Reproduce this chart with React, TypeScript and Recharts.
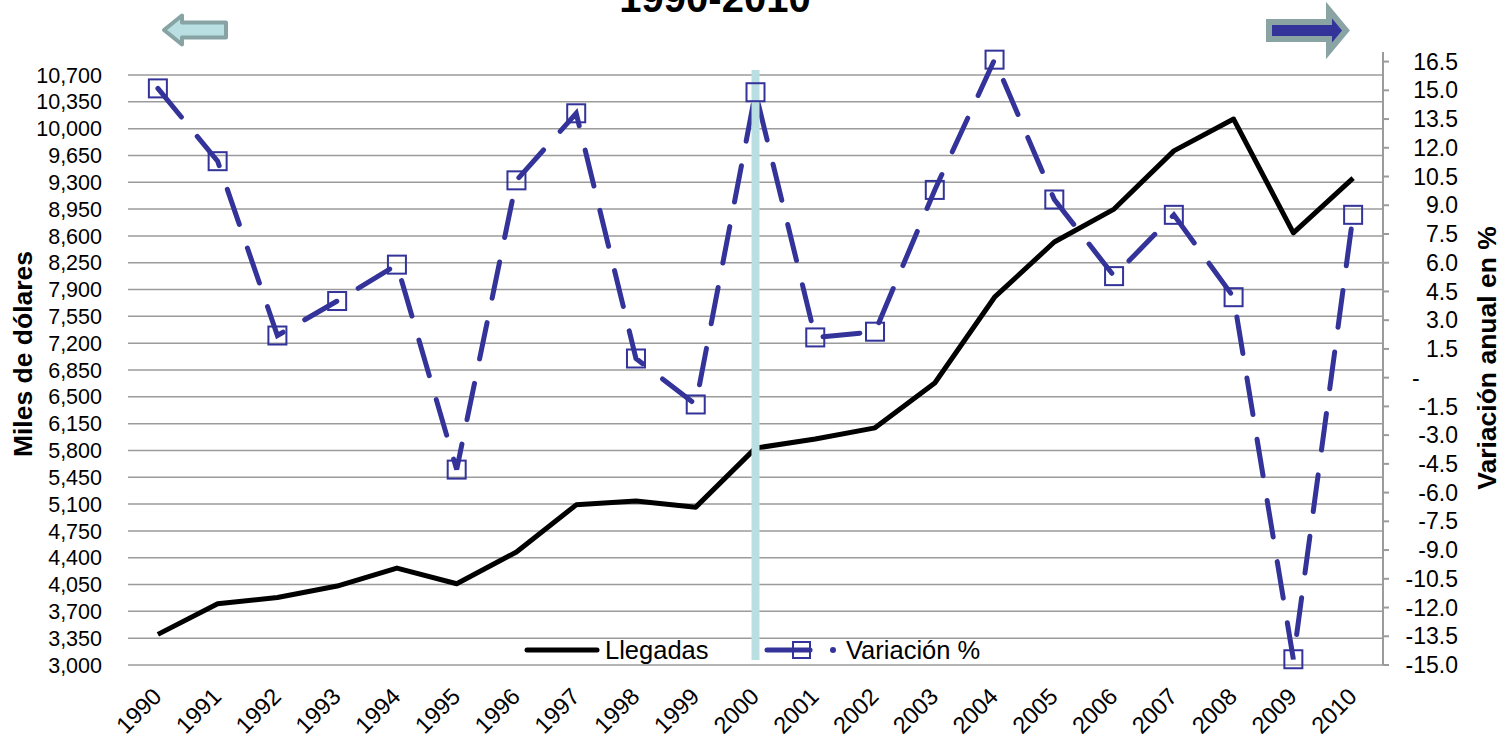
import { LineChart, Line, XAxis, YAxis, CartesianGrid, ReferenceLine } from "recharts";

const years = [
  "1990", "1991", "1992", "1993", "1994", "1995", "1996", "1997", "1998", "1999", "2000",
  "2001", "2002", "2003", "2004", "2005", "2006", "2007", "2008", "2009", "2010",
];

// miles de dólares
const llegadas = [
  3400, 3800, 3880, 4030, 4265, 4060, 4475, 5090, 5140, 5060, 5830,
  5950, 6095, 6680, 7800, 8520, 8950, 9710, 10125, 8640, 9355,
];

// variación anual en %
const variacion = [
  15.1, 11.3, 2.2, 4.0, 5.9, -4.8, 10.3, 13.8, 1.0, -1.4, 14.9,
  2.1, 2.4, 9.8, 16.6, 9.3, 5.3, 8.5, 4.2, -14.7, 8.5,
];

const leftTicks = [
  3000, 3350, 3700, 4050, 4400, 4750, 5100, 5450, 5800, 6150, 6500, 6850,
  7200, 7550, 7900, 8250, 8600, 8950, 9300, 9650, 10000, 10350, 10700,
];

const rightTicks = [
  -15, -13.5, -12, -10.5, -9, -7.5, -6, -4.5, -3, -1.5, 0,
  1.5, 3, 4.5, 6, 7.5, 9, 10.5, 12, 13.5, 15, 16.5,
];

const data = years.map((year, i) => ({
  year,
  llegadas: llegadas[i],
  variacion: variacion[i],
}));

const FONT = "'Liberation Sans', Arial, sans-serif";
const BLUE = "#333399";
const GRID = "#9b9b9b";

const SquareDot = (props: any) => {
  const { cx, cy } = props;
  if (cx == null || cy == null) return null;
  return (
    <rect x={cx - 9} y={cy - 9} width={18} height={18} fill="none" stroke={BLUE} strokeWidth={2} />
  );
};

const YearTick = ({ x, y, payload }: any) => (
  <g transform={`translate(${x + 5},${y + 33})`}>
    <text x={0} y={0} textAnchor="end" transform="rotate(-45)" fontSize={23.5} fill="#000" fontFamily={FONT}>
      {payload.value}
    </text>
  </g>
);

const RightTick = ({ x, y, payload }: any) => {
  const v = payload.value as number;
  if (v === 0) {
    return (
      <text x={x + 21} y={y} dy="0.355em" fontSize={23} fill="#000" fontFamily={FONT}>
        -
      </text>
    );
  }
  return (
    <text x={x + 67} y={y} dy="0.355em" textAnchor="end" fontSize={23} fill="#000" fontFamily={FONT}>
      {v.toFixed(1)}
    </text>
  );
};

export default function App() {
  return (
    <div style={{ position: "absolute", left: 0, top: 0, width: 1503, height: 738, fontFamily: FONT, background: "#fff" }}>
      <LineChart width={1503} height={738} data={data} margin={{ top: 52, right: 0, bottom: 0, left: 0 }}>
        <CartesianGrid
          yAxisId="left"
          vertical={false}
          horizontalValues={leftTicks}
          stroke={GRID}
          strokeWidth={1.5}
        />
        <XAxis
          dataKey="year"
          scale="band"
          height={73}
          axisLine={false}
          tickLine={false}
          tickSize={0}
          tickMargin={0}
          interval={0}
          tick={<YearTick />}
        />
        <YAxis
          yAxisId="left"
          width={128}
          domain={[3000, 11000]}
          ticks={leftTicks}
          interval={0}
          axisLine={false}
          tickLine={false}
          tickSize={0}
          tickMargin={26}
          tickFormatter={(v: number) => v.toLocaleString("en-US")}
          tick={{ fontSize: 21.5, fill: "#000", fontFamily: FONT }}
        />
        <YAxis
          yAxisId="right"
          orientation="right"
          width={120}
          domain={[-15, 17]}
          ticks={rightTicks}
          interval={0}
          axisLine={{ stroke: GRID, strokeWidth: 2 }}
          tickLine={{ stroke: GRID, strokeWidth: 2 }}
          tickSize={6}
          tickMargin={2}
          tick={<RightTick />}
        />
        <Line
          yAxisId="left"
          type="linear"
          dataKey="llegadas"
          name="Llegadas"
          stroke="#000"
          strokeWidth={5}
          strokeLinejoin="round"
          dot={false}
          activeDot={false}
          isAnimationActive={false}
        />
        <Line
          yAxisId="right"
          type="linear"
          dataKey="variacion"
          name="Variación %"
          stroke={BLUE}
          strokeWidth={5}
          strokeDasharray="37 25"
          strokeLinecap="round"
          dot={(p: any) => <SquareDot key={`sq-${p.index}`} {...p} />}
          activeDot={false}
          isAnimationActive={false}
        />
        <ReferenceLine
          yAxisId="left"
          segment={[
            { x: "2000", y: 10765 },
            { x: "2000", y: 3065 },
          ]}
          stroke="#b9dfe3"
          strokeWidth={8}
        />
      </LineChart>
      <svg
        width={1503}
        height={738}
        style={{ position: "absolute", left: 0, top: 0, pointerEvents: "none" }}
      >
        <text x={715} y={12} textAnchor="middle" fontSize={40} fontWeight="bold" fontFamily={FONT} fill="#000">
          1990-2010
        </text>
        <polygon
          points="164,30 182,15.5 182,22.5 226,22.5 226,37.5 182,37.5 182,44.5"
          fill="#b9dfe2"
          stroke="#88a3a3"
          strokeWidth={4}
          strokeLinejoin="round"
        />
        <polygon
          points="1269,22 1329,22 1329,10 1346,30.5 1329,51 1329,39 1269,39"
          fill={BLUE}
          stroke="#8aa4a4"
          strokeWidth={6}
        />
        <text
          transform="translate(32,354) rotate(-90)"
          textAnchor="middle"
          fontSize={26.5}
          fontWeight="bold"
          fontFamily={FONT}
          fill="#000"
        >
          Miles de dólares
        </text>
        <text
          transform="translate(1496,358) rotate(-90)"
          textAnchor="middle"
          fontSize={26.5}
          fontWeight="bold"
          fontFamily={FONT}
          fill="#000"
        >
          Variación anual en %
        </text>
        {/* leyenda */}
        <g transform="translate(520,634)">
          <line x1={7} y1={16} x2={77} y2={16} stroke="#000" strokeWidth={5} strokeLinecap="round" />
          <text x={85} y={24.5} fontSize={25.5} fontFamily={FONT} fill="#000">
            Llegadas
          </text>
          <line x1={247} y1={16} x2={290} y2={16} stroke={BLUE} strokeWidth={5} strokeLinecap="round" />
          <rect x={273} y={8} width={17} height={16} fill="none" stroke={BLUE} strokeWidth={2} />
          <circle cx={313} cy={16} r={3} fill={BLUE} />
          <text x={326} y={24.5} fontSize={25.5} fontFamily={FONT} fill="#000">
            Variación %
          </text>
        </g>
      </svg>
    </div>
  );
}
